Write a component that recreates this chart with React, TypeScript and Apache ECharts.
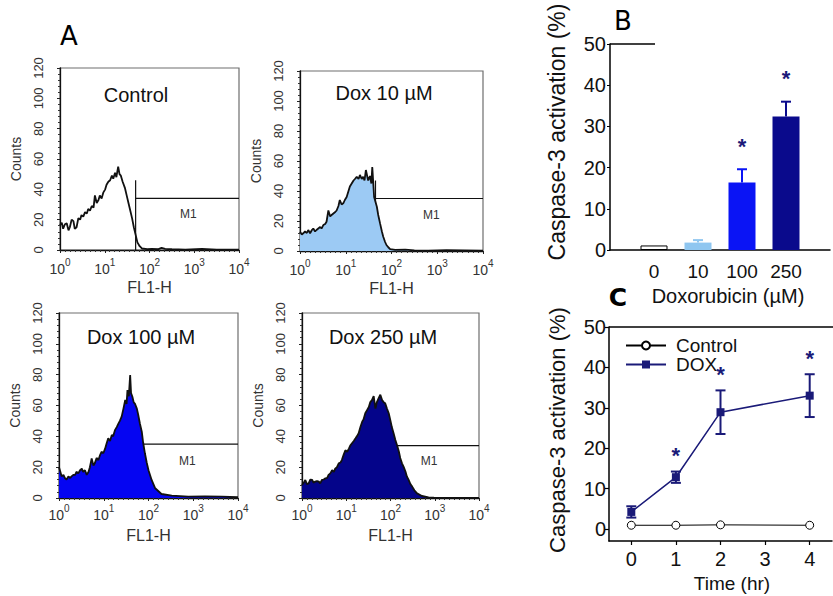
import React, { useEffect, useRef } from "react";
import * as echarts from "echarts";

const FONT = "'Liberation Sans', Arial, Helvetica, sans-serif";

// ---------- Panel A: flow cytometry histograms (x = log10 FL1-H, y = counts)
const controlLogFL1 = [0, 0.04, 0.07, 0.11, 0.15, 0.19, 0.22, 0.26, 0.3, 0.33, 0.37, 0.41, 0.45, 0.48, 0.52, 0.56, 0.6, 0.63, 0.67, 0.71, 0.75, 0.78, 0.82, 0.86, 0.89, 0.93, 0.97, 1.01, 1.04, 1.08, 1.12, 1.16, 1.19, 1.23, 1.26, 1.3, 1.33, 1.36, 1.4, 1.45, 1.49, 1.53, 1.57, 1.61, 1.65, 1.69, 1.73, 1.78, 1.83, 1.95, 2.05, 2.2, 2.27, 2.35, 2.5, 2.8, 3.17, 3.5, 4.0];
const controlCounts = [16.5, 18, 14, 17, 17.6, 13, 15, 20, 19, 14, 15, 21, 20, 23, 22, 25, 24, 27, 26, 29, 28, 36, 31, 33, 36, 34, 38, 40, 43, 45, 46, 49, 47, 51, 48, 55, 50, 49, 45, 41, 36, 31, 26, 21, 15, 10, 5, 2.5, 1, 0.6, 0.8, 0.6, 1.4, 0.8, 0.5, 0.3, 0.8, 0.3, 0.2];

const dox10LogFL1 = [0, 0.04, 0.07, 0.11, 0.15, 0.18, 0.22, 0.26, 0.29, 0.33, 0.36, 0.4, 0.44, 0.47, 0.51, 0.55, 0.58, 0.62, 0.66, 0.69, 0.73, 0.77, 0.8, 0.84, 0.87, 0.91, 0.95, 0.98, 1.02, 1.06, 1.09, 1.13, 1.17, 1.2, 1.24, 1.28, 1.31, 1.35, 1.38, 1.41, 1.44, 1.49, 1.53, 1.56, 1.58, 1.62, 1.68, 1.71, 1.75, 1.79, 1.82, 1.86, 1.89, 1.93, 1.97, 2.08, 2.3, 2.5, 2.8, 3.2, 4.0];
const dox10Counts = [12.9, 11, 11.8, 13, 12, 14, 11.8, 14, 15, 13, 14, 15, 16, 15, 17.3, 18, 19.5, 27, 23, 24, 25, 26, 27, 30, 34, 31, 32, 34, 36, 40, 43, 45, 47, 48, 49.5, 48, 50.7, 48, 49.5, 47, 54, 47, 50, 45, 56, 36, 29.5, 24, 18.4, 13, 9.5, 6, 4, 2.5, 1.3, 0.7, 0.9, 0.4, 0.3, 0.5, 0.2];

const dox100LogFL1 = [0, 0.03, 0.06, 0.1, 0.13, 0.17, 0.21, 0.25, 0.28, 0.32, 0.36, 0.39, 0.43, 0.47, 0.51, 0.54, 0.58, 0.62, 0.66, 0.69, 0.73, 0.77, 0.8, 0.84, 0.88, 0.92, 0.95, 0.99, 1.03, 1.06, 1.1, 1.14, 1.18, 1.21, 1.25, 1.29, 1.33, 1.36, 1.4, 1.44, 1.48, 1.51, 1.53, 1.56, 1.59, 1.61, 1.64, 1.67, 1.7, 1.74, 1.77, 1.81, 1.85, 1.88, 1.92, 1.96, 2.0, 2.07, 2.15, 2.29, 2.52, 2.89, 3.26, 3.64, 4.0];
const dox100Counts = [20, 17, 14, 15, 13, 12, 14, 13, 14, 15, 15, 17, 16, 18, 19, 17, 18, 15, 17, 20, 25.7, 21, 22.5, 26, 24.6, 28, 30, 29, 32, 35, 38.7, 37, 40.9, 40, 44, 46, 48.4, 50, 52.8, 58, 63.6, 61, 70, 66, 79.8, 68, 65.7, 62, 61, 58, 54, 48, 43, 36, 29, 23, 18, 11.7, 6.3, 2.6, 1.5, 0.9, 1, 0.9, 0.5];

const dox250LogFL1 = [0, 0.04, 0.075, 0.11, 0.15, 0.19, 0.23, 0.26, 0.3, 0.34, 0.38, 0.41, 0.45, 0.49, 0.53, 0.57, 0.6, 0.64, 0.68, 0.72, 0.75, 0.79, 0.83, 0.87, 0.9, 0.94, 0.98, 1.02, 1.06, 1.09, 1.13, 1.17, 1.21, 1.24, 1.28, 1.32, 1.36, 1.39, 1.43, 1.47, 1.51, 1.54, 1.58, 1.62, 1.66, 1.69, 1.73, 1.77, 1.81, 1.85, 1.88, 1.92, 1.96, 2.0, 2.03, 2.07, 2.11, 2.15, 2.19, 2.22, 2.26, 2.3, 2.34, 2.37, 2.41, 2.45, 2.49, 2.54, 2.6, 2.71, 2.86, 2.98, 4.0];
const dox250Counts = [8.4, 10, 11.7, 9, 9.5, 12, 11.7, 10, 10.6, 11, 10.6, 9.5, 11.7, 12, 12.8, 13, 15, 16, 18, 17, 19, 20, 22.5, 23, 24.6, 28, 31, 30, 32, 34, 35.5, 37, 38.7, 40, 42, 46, 49.5, 51, 55, 57, 59, 62, 63.5, 66, 58, 62, 64.6, 67, 63.5, 62, 61.4, 58, 55, 50, 46, 42, 37.6, 34, 30, 26, 22.5, 20, 17, 14, 11.7, 9, 7.4, 5, 3, 1.3, 0.4, 0.2, 0];

const histTitles = ["Control", "Dox 10 \u00b5M", "Dox 100 \u00b5M", "Dox 250 \u00b5M"];
const histFills = ["none", "#9ccaf4", "#0505f2", "#04048a"];
const markerLogPos = [1.69, 1.65, 1.66, 1.63];
const markerTop = [46, 47, 46, 46];
const markerLevel = [34, 35, 35, 34];
const countTicks = [0, 20, 40, 60, 80, 100, 120];
const decadeTicks = [0, 1, 2, 3, 4];

// ---------- Panel B: caspase-3 activation vs doxorubicin dose
const doseLabels = ["0", "10", "100", "250"];
const doseActivation = [1.1, 1.8, 16.4, 32.4];
const doseSEM = [0, 0.6, 3.2, 3.6];
const doseSignificant = [false, false, true, true];
const doseColors = ["#ffffff", "#8fc6f0", "#0a14f5", "#0a0a8c"];

// ---------- Panel C: time course
const timeHours = [0, 1, 2, 4];
const controlActivation = [0.9, 0.9, 1.0, 0.9];
const doxActivation = [4.2, 12.8, 28.9, 33.0];
const doxSEM = [1.4, 1.4, 5.4, 5.3];
const timeSignificant = [false, true, true, true];
const timeTicks = [0, 1, 2, 3, 4];
const activationTicks = [0, 10, 20, 30, 40, 50];

const NAVY = "#1a1a78";

const histX = [controlLogFL1, dox10LogFL1, dox100LogFL1, dox250LogFL1];
const histY = [controlCounts, dox10Counts, dox100Counts, dox250Counts];

const histGrids = [
  { left: 60, top: 68, width: 179, height: 182 },
  { left: 300, top: 71, width: 183, height: 180 },
  { left: 59, top: 313, width: 179, height: 185 },
  { left: 302, top: 313, width: 177, height: 185 },
];
const histTitlePos = [
  [136, 95],
  [384, 93],
  [141, 337],
  [383, 337],
];
const histLabelMargin = [7, 7, 5, 5];

function buildOption() {
  const grids: any[] = histGrids.map((g) => ({
    ...g,
    show: true,
    borderColor: "#6e6e6e",
    borderWidth: 1.2,
    backgroundColor: "transparent",
  }));
  grids.push({ left: 610, top: 44, width: 222, height: 206 });
  grids.push({ left: 609, top: 327, width: 223, height: 214 });

  const xAxes: any[] = [];
  const yAxes: any[] = [];
  const series: any[] = [];

  histGrids.forEach((_, i) => {
    xAxes.push({
      gridIndex: i,
      type: "value",
      min: 0,
      max: 4,
      interval: 1,
      axisLine: { show: true, onZero: false, lineStyle: { color: "#111", width: 1.3 } },
      axisTick: { show: true, length: 3, lineStyle: { color: "#222" } },
      minorTick: { show: true, splitNumber: 9, length: 2, lineStyle: { color: "#333" } },
      splitLine: { show: false },
      axisLabel: {
        margin: histLabelMargin[i],
        formatter: (v: number) => `{b|10}{s|${decadeTicks[v]}}`,
        rich: {
          b: { fontSize: 14, fontFamily: FONT, color: "#333", lineHeight: 19, verticalAlign: "bottom" },
          s: { fontSize: 10, fontFamily: FONT, color: "#333", lineHeight: 10, verticalAlign: "top" },
        },
      },
      name: "FL1-H",
      nameLocation: "middle",
      nameGap: 29,
      nameTextStyle: { fontSize: 16, fontFamily: FONT, color: "#333" },
    });
    yAxes.push({
      gridIndex: i,
      type: "value",
      min: countTicks[0],
      max: countTicks[countTicks.length - 1],
      interval: 20,
      axisLine: { show: true, onZero: false, lineStyle: { color: "#111", width: 1.3 } },
      axisTick: { show: true, length: 3, lineStyle: { color: "#222" } },
      minorTick: { show: true, splitNumber: 5, length: 2, lineStyle: { color: "#333" } },
      splitLine: { show: false },
      axisLabel: { rotate: 90, margin: 15, fontSize: 13, fontFamily: FONT, color: "#333" },
      name: "Counts",
      nameLocation: "middle",
      nameGap: 37,
      nameTextStyle: { fontSize: 14, fontFamily: FONT, color: "#333" },
    });
  });

  // Panel B axes
  xAxes.push({
    gridIndex: 4,
    type: "value",
    min: -1,
    max: 4,
    interval: 1,
    axisLine: { show: true, onZero: false, lineStyle: { color: "#000", width: 1.5 } },
    axisTick: { show: false },
    splitLine: { show: false },
    axisLabel: {
      margin: 12,
      fontSize: 19,
      fontFamily: FONT,
      color: "#111",
      formatter: (v: number) => (v >= 0 && v < doseLabels.length ? doseLabels[v] : ""),
    },
  });
  yAxes.push({
    gridIndex: 4,
    type: "value",
    min: 0,
    max: 50,
    interval: 10,
    axisLine: { show: true, onZero: false, lineStyle: { color: "#000", width: 1.5 } },
    axisTick: { show: true, length: 3, lineStyle: { color: "#000" } },
    splitLine: { show: false },
    axisLabel: { margin: 4, fontSize: 20, fontFamily: FONT, color: "#111" },
  });

  // Panel C axes
  xAxes.push({
    gridIndex: 5,
    type: "value",
    min: -0.5,
    max: 4.5,
    axisLine: { show: true, onZero: false, lineStyle: { color: "#000", width: 1.5 } },
    axisTick: { show: true, length: 4, customValues: timeTicks, lineStyle: { color: "#000", width: 1.2 } },
    splitLine: { show: false },
    axisLabel: { margin: 8, fontSize: 20, fontFamily: FONT, color: "#111", customValues: timeTicks },
  });
  yAxes.push({
    gridIndex: 5,
    type: "value",
    min: -3,
    max: 50,
    axisLine: { show: true, onZero: false, lineStyle: { color: "#000", width: 1.5 } },
    axisTick: { show: true, length: 4, customValues: activationTicks, lineStyle: { color: "#000", width: 1.2 } },
    splitLine: { show: false },
    axisLabel: { margin: 3, fontSize: 20, fontFamily: FONT, color: "#111", customValues: activationTicks },
  });

  // Histogram series
  histGrids.forEach((_, i) => {
    // horizontal M1 gate line + label (under the fill)
    series.push({
      type: "custom",
      xAxisIndex: i,
      yAxisIndex: i,
      silent: true,
      data: [[markerLogPos[i], markerTop[i], markerLevel[i]]],
      renderItem: (params: any, api: any) => {
        const p0 = api.coord([api.value(0), api.value(2)]);
        const p1 = api.coord([4, api.value(2)]);
        const t = api.coord([2.87, 24]);
        return {
          type: "group",
          children: [
            { type: "line", shape: { x1: p0[0], y1: p0[1], x2: p1[0], y2: p1[1] }, style: { stroke: "#111", lineWidth: 1.2 } },
            {
              type: "text",
              x: t[0],
              y: t[1],
              style: { text: "M1", fill: "#333", font: `12px ${FONT}`, textAlign: "center", textVerticalAlign: "middle" },
            },
          ],
        };
      },
    });
    series.push({
      type: "line",
      xAxisIndex: i,
      yAxisIndex: i,
      data: histX[i].map((x, k) => [x, histY[i][k]]),
      symbol: "none",
      lineStyle: { color: "#111", width: 1.8 },
      areaStyle: histFills[i] === "none" ? undefined : { color: histFills[i], opacity: 1 },
      silent: true,
    });
    // vertical M1 gate line (over the fill)
    series.push({
      type: "custom",
      xAxisIndex: i,
      yAxisIndex: i,
      silent: true,
      data: [[markerLogPos[i], markerTop[i]]],
      renderItem: (params: any, api: any) => {
        const p0 = api.coord([api.value(0), 0]);
        const p1 = api.coord([api.value(0), api.value(1)]);
        return { type: "line", shape: { x1: p0[0], y1: p0[1], x2: p1[0], y2: p1[1] }, style: { stroke: "#111", lineWidth: 1.2 } };
      },
    });
  });

  // Panel B bars
  series.push({
    type: "bar",
    xAxisIndex: 4,
    yAxisIndex: 4,
    barWidth: 27,
    data: doseActivation.map((v, k) => ({
      value: [k, v],
      itemStyle: { color: doseColors[k], borderColor: k === 0 ? "#000" : doseColors[k], borderWidth: k === 0 ? 1 : 0 },
    })),
  });
  series.push({
    type: "custom",
    xAxisIndex: 4,
    yAxisIndex: 4,
    data: doseActivation.map((v, k) => [k, v, v + doseSEM[k]]).filter((d, k) => doseSEM[k] > 0),
    renderItem: (params: any, api: any) => {
      const k = api.value(0);
      const pLo = api.coord([k, api.value(1)]);
      const pHi = api.coord([k, api.value(2)]);
      const style = { stroke: doseColors[k], lineWidth: 2 };
      return {
        type: "group",
        children: [
          { type: "line", shape: { x1: pLo[0], y1: pLo[1], x2: pHi[0], y2: pHi[1] }, style },
          { type: "line", shape: { x1: pHi[0] - 5, y1: pHi[1], x2: pHi[0] + 5, y2: pHi[1] }, style },
        ],
      };
    },
  });
  series.push({
    type: "custom",
    xAxisIndex: 4,
    yAxisIndex: 4,
    data: doseActivation.map((v, k) => [k, v + doseSEM[k]]).filter((d, k) => doseSignificant[k]),
    renderItem: (params: any, api: any) => {
      const p = api.coord([api.value(0), api.value(1)]);
      return {
        type: "text",
        x: p[0],
        y: p[1] - 34,
        style: { text: "*", fill: NAVY, font: `bold 22px ${FONT}`, textAlign: "center", textVerticalAlign: "top" },
      };
    },
  });

  // Panel C series
  series.push({
    name: "Control",
    type: "line",
    xAxisIndex: 5,
    yAxisIndex: 5,
    data: timeHours.map((t, k) => [t, controlActivation[k]]),
    symbol: "circle",
    symbolSize: 8,
    itemStyle: { color: "#fff", borderColor: "#000", borderWidth: 1 },
    lineStyle: { color: "#000", width: 1 },
  });
  series.push({
    name: "DOX",
    type: "line",
    xAxisIndex: 5,
    yAxisIndex: 5,
    data: timeHours.map((t, k) => [t, doxActivation[k]]),
    symbol: "rect",
    symbolSize: 8,
    itemStyle: { color: NAVY },
    lineStyle: { color: NAVY, width: 1.5 },
    z: 3,
  });
  series.push({
    type: "custom",
    xAxisIndex: 5,
    yAxisIndex: 5,
    data: timeHours.map((t, k) => [t, doxActivation[k] - doxSEM[k], doxActivation[k] + doxSEM[k]]),
    renderItem: (params: any, api: any) => {
      const x = api.value(0);
      const pLo = api.coord([x, api.value(1)]);
      const pHi = api.coord([x, api.value(2)]);
      const style = { stroke: NAVY, lineWidth: 2 };
      return {
        type: "group",
        children: [
          { type: "line", shape: { x1: pLo[0], y1: pLo[1], x2: pHi[0], y2: pHi[1] }, style },
          { type: "line", shape: { x1: pHi[0] - 5, y1: pHi[1], x2: pHi[0] + 5, y2: pHi[1] }, style },
          { type: "line", shape: { x1: pLo[0] - 5, y1: pLo[1], x2: pLo[0] + 5, y2: pLo[1] }, style },
        ],
      };
    },
  });
  series.push({
    type: "custom",
    xAxisIndex: 5,
    yAxisIndex: 5,
    data: timeHours.map((t, k) => [t, doxActivation[k] + doxSEM[k]]).filter((d, k) => timeSignificant[k]),
    renderItem: (params: any, api: any) => {
      const p = api.coord([api.value(0), api.value(1)]);
      return {
        type: "text",
        x: p[0],
        y: p[1] - 27,
        style: { text: "*", fill: NAVY, font: `bold 22px ${FONT}`, textAlign: "center", textVerticalAlign: "top" },
      };
    },
  });

  const graphics: any[] = [
    { type: "text", x: 69, y: 36, style: { text: "A", font: `26px 'DejaVu Sans', sans-serif`, fill: "#000", textAlign: "center", textVerticalAlign: "middle" } },
    { type: "text", x: 623, y: 21, style: { text: "B", font: `26px 'DejaVu Sans', sans-serif`, fill: "#000", textAlign: "center", textVerticalAlign: "middle" } },
    { type: "text", x: 618, y: 297, style: { text: "C", font: `bold 25px 'DejaVu Sans', sans-serif`, fill: "#000", textAlign: "center", textVerticalAlign: "middle" } },
    { type: "line", shape: { x1: 610, y1: 44, x2: 655, y2: 44 }, style: { stroke: "#000", lineWidth: 1.5 } },
    { type: "line", shape: { x1: 609, y1: 327, x2: 833, y2: 327 }, style: { stroke: "#000", lineWidth: 1.5 } },
    {
      type: "text", x: 557, y: 132, rotation: Math.PI / 2,
      style: { text: "Caspase-3 activation (%)", font: `23px ${FONT}`, fill: "#111", textAlign: "center", textVerticalAlign: "middle" },
    },
    {
      type: "text", x: 557, y: 430, rotation: Math.PI / 2,
      style: { text: "Caspase-3 activation (%)", font: `22px ${FONT}`, fill: "#111", textAlign: "center", textVerticalAlign: "middle" },
    },
    { type: "text", x: 728, y: 296, style: { text: "Doxorubicin (\u00b5M)", font: `20px ${FONT}`, fill: "#111", textAlign: "center", textVerticalAlign: "middle" } },
    { type: "text", x: 732, y: 583, style: { text: "Time (hr)", font: `19px ${FONT}`, fill: "#111", textAlign: "center", textVerticalAlign: "middle" } },
  ];
  histTitles.forEach((t, i) => {
    graphics.push({
      type: "text",
      x: histTitlePos[i][0],
      y: histTitlePos[i][1],
      style: { text: t, font: `20px ${FONT}`, fill: "#111", textAlign: "center", textVerticalAlign: "middle" },
    });
  });

  return {
    animation: false,
    backgroundColor: "#ffffff",
    grid: grids,
    xAxis: xAxes,
    yAxis: yAxes,
    legend: {
      data: ["Control", "DOX"],
      left: 620,
      top: 331,
      orient: "vertical",
      itemWidth: 40,
      itemHeight: 10,
      itemGap: 0,
      textStyle: { fontSize: 19, fontFamily: FONT, color: "#111", padding: [0, 0, 0, 5] },
    },
    series,
    graphic: graphics,
  };
}

export default function App() {
  const ref = useRef<HTMLDivElement>(null);
  useEffect(() => {
    if (!ref.current) return;
    const chart = echarts.init(ref.current, undefined, { renderer: "svg" });
    chart.setOption(buildOption() as any);
    return () => chart.dispose();
  }, []);
  return (
    <div
      ref={ref}
      style={{ position: "fixed", left: 0, top: 0, width: 833, height: 596, background: "#fff" }}
    />
  );
}
